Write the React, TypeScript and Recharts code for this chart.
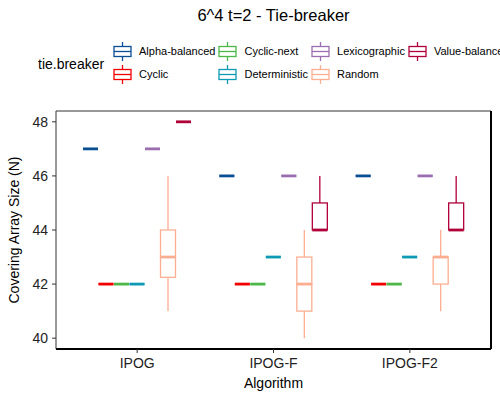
import React from 'react';
import { BarChart, Bar, XAxis, YAxis, Legend, Label } from 'recharts';

const algorithms = ['IPOG', 'IPOG-F', 'IPOG-F2'];
const tieBreakers = ['Alpha-balanced', 'Cyclic', 'Cyclic-next', 'Deterministic', 'Lexicographic', 'Random', 'Value-balanced'];
const tieColors = ['#0b4f94', '#f20000', '#4db748', '#0f9ab5', '#9b6eb0', '#fcae91', '#b0003a'];
const yTicks = [40, 42, 44, 46, 48];

// [min, q1, median, q3, max] per algorithm (IPOG, IPOG-F, IPOG-F2)
const alphaBalanced = [[47, 47, 47, 47, 47], [46, 46, 46, 46, 46], [46, 46, 46, 46, 46]];
const cyclic = [[42, 42, 42, 42, 42], [42, 42, 42, 42, 42], [42, 42, 42, 42, 42]];
const cyclicNext = [[42, 42, 42, 42, 42], [42, 42, 42, 42, 42], [42, 42, 42, 42, 42]];
const deterministic = [[42, 42, 42, 42, 42], [43, 43, 43, 43, 43], [43, 43, 43, 43, 43]];
const lexicographic = [[47, 47, 47, 47, 47], [46, 46, 46, 46, 46], [46, 46, 46, 46, 46]];
const random = [[41, 42.25, 43, 44, 46], [40, 41, 42, 43, 44], [41, 42, 43, 43, 44]];
const valueBalanced = [[48, 48, 48, 48, 48], [44, 44, 44, 45, 46], [44, 44, 44, 45, 46]];

const seriesStats = [alphaBalanced, cyclic, cyclicNext, deterministic, lexicographic, random, valueBalanced];

const FONT = '"Liberation Sans", Arial, Helvetica, sans-serif';

const tableData = algorithms.map((alg, ai) => {
  const row: any = { name: alg };
  tieBreakers.forEach((tb, ti) => {
    const [mn, q1, md, q3, mx] = seriesStats[ti][ai];
    row[`${tb}|base`] = mn;
    row[`${tb}|w1`] = q1 - mn;
    row[`${tb}|b1`] = md - q1;
    row[`${tb}|b2`] = q3 - md;
    row[`${tb}|w2`] = mx - q3;
  });
  return row;
});

const parts = ['base', 'w1', 'b1', 'b2', 'w2'];

const makeShape = (part: string, color: string) => (p: any) => {
  const { x, y, width, height } = p;
  if (part === 'base' || x == null || y == null) return <g />;
  const cx = x + width / 2;
  if (part === 'w1' || part === 'w2') {
    return <line x1={cx} x2={cx} y1={y} y2={y + height} stroke={color} strokeWidth={1.3} />;
  }
  if (part === 'b1') {
    return (
      <g>
        {height > 0 && <rect x={x} y={y} width={width} height={height} fill="none" stroke={color} strokeWidth={1.3} />}
        <line x1={x} x2={x + width} y1={y} y2={y} stroke={color} strokeWidth={2.8} />
      </g>
    );
  }
  return height > 0 ? (
    <rect x={x} y={y} width={width} height={height} fill="none" stroke={color} strokeWidth={1.3} />
  ) : (
    <line x1={x} x2={x + width} y1={y} y2={y} stroke={color} strokeWidth={1.3} />
  );
};

const LegendIcon = ({ color }: { color: string }) => (
  <svg width={19} height={20} style={{ display: 'block', flexShrink: 0 }}>
    <line x1={9.5} x2={9.5} y1={1} y2={5.5} stroke={color} strokeWidth={1.3} />
    <line x1={9.5} x2={9.5} y1={15.5} y2={20} stroke={color} strokeWidth={1.3} />
    <rect x={1} y={5.5} width={17} height={10} fill="#fff" stroke={color} strokeWidth={1.3} />
    <line x1={1} x2={18} y1={10.5} y2={10.5} stroke={color} strokeWidth={1.3} />
  </svg>
);

const LegendContent = () => (
  <div style={{ position: 'relative', width: 500, height: 46, fontFamily: FONT, color: '#000', textAlign: 'left' }}>
    <div style={{ position: 'absolute', left: 38, top: 17, fontSize: 14, lineHeight: '16px', whiteSpace: 'nowrap' }}>tie.breaker</div>
    <div
      style={{
        position: 'absolute',
        left: 113,
        top: 0,
        display: 'grid',
        gridAutoFlow: 'column',
        gridTemplateRows: '23px 23px',
        columnGap: 3,
        width: 'max-content',
      }}
    >
      {tieBreakers.map((tb, i) => (
        <div key={tb} style={{ display: 'flex', alignItems: 'center' }}>
          <LegendIcon color={tieColors[i]} />
          <span style={{ marginLeft: 7, fontSize: 11, whiteSpace: 'nowrap' }}>{tb}</span>
        </div>
      ))}
    </div>
  </div>
);

const YTitle = (props: any) => {
  const vb = props.viewBox || {};
  const cx = (vb.x || 0) + 14;
  const cy = (vb.y || 0) + (vb.height || 0) / 2;
  return (
    <text x={cx} y={cy} dy="0.36em" textAnchor="middle" transform={`rotate(-90 ${cx} ${cy})`} fontSize={14} fill="#000" fontFamily={FONT}>
      Covering Array Size (N)
    </text>
  );
};

export default function App() {
  return (
    <div style={{ position: 'absolute', left: 0, top: 0, width: 500, height: 400, fontFamily: FONT, background: '#fff', overflow: 'hidden' }}>
      <div style={{ position: 'absolute', left: 56, top: 7, width: 435, textAlign: 'center', fontSize: 16.5, lineHeight: '16.5px', color: '#000' }}>
        6^4 t=2 - Tie-breaker
      </div>
      <BarChart
        width={500}
        height={400}
        data={tableData}
        margin={{ top: 110, right: 8, bottom: 0, left: 0 }}
        barSize={15}
        barGap={0.5}
      >
        <Legend
          layout="horizontal"
          verticalAlign="middle"
          align="center"
          content={() => <LegendContent />}
          wrapperStyle={{ top: 39, left: 0, width: 500, height: 46 }}
        />
        <XAxis
          dataKey="name"
          padding={{ left: 13, right: 13 }}
          height={51}
          tickSize={4}
          tickMargin={5}
          tick={{ fontSize: 14, fill: '#222' }}
          tickLine={{ stroke: '#333' }}
          axisLine={{ stroke: '#000', strokeWidth: 2 }}
        >
          <Label value="Algorithm" position="insideBottom" offset={12} fontSize={14} fill="#000" />
        </XAxis>
        <XAxis xAxisId="top" dataKey="name" orientation="top" height={1} tick={false} tickLine={false} axisLine={{ stroke: '#333', strokeWidth: 1 }} />
        <YAxis
          width={56}
          domain={[39.6, 48.4]}
          allowDataOverflow
          ticks={yTicks}
          tickSize={4}
          tickMargin={4}
          tick={{ fontSize: 14, fill: '#222' }}
          tickLine={{ stroke: '#333' }}
          axisLine={{ stroke: '#333', strokeWidth: 1 }}
          label={{ content: (p: any) => <YTitle {...p} /> }}
        />
        <YAxis yAxisId="right" orientation="right" width={1} domain={[39.6, 48.4]} allowDataOverflow tick={false} tickLine={false} axisLine={{ stroke: '#000', strokeWidth: 2 }} />
        {tieBreakers.map((tb, ti) =>
          parts.map((part) => (
            <Bar
              key={`${tb}|${part}`}
              dataKey={`${tb}|${part}`}
              stackId={tb}
              fill={tieColors[ti]}
              isAnimationActive={false}
              legendType="none"
              shape={makeShape(part, tieColors[ti])}
              activeBar={false}
            />
          ))
        )}
      </BarChart>
    </div>
  );
}
